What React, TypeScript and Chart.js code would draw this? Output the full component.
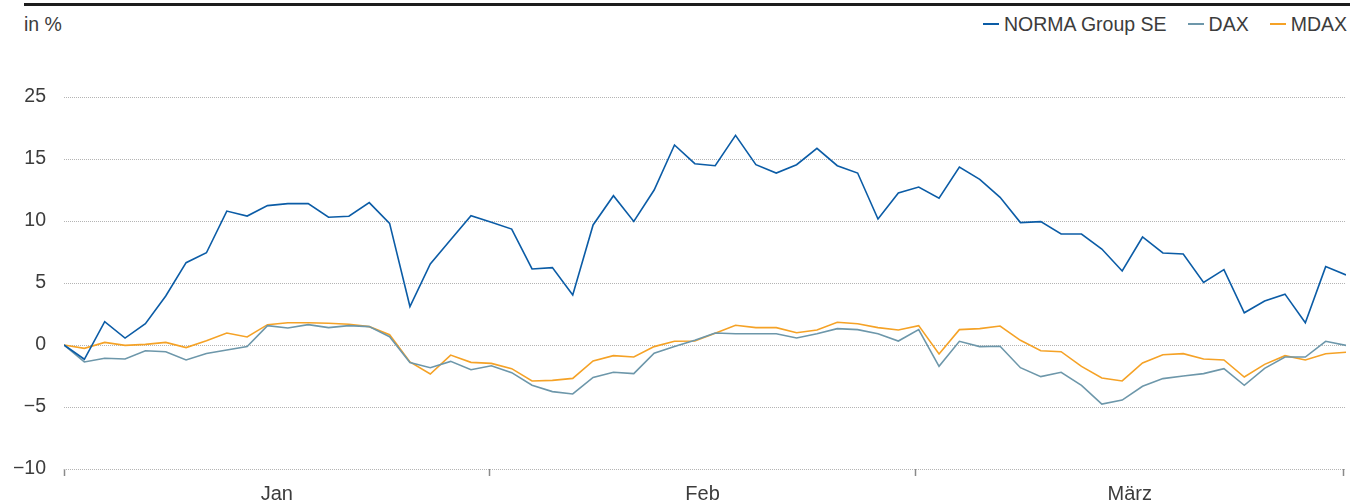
import React, { useEffect, useRef } from "react";
import { Chart, registerables } from "chart.js";

Chart.register(...registerables);

// ---- data ----
const seriesNames = ["NORMA Group SE", "DAX", "MDAX"];
const seriesColors = ["#0b5ca6", "#6d97aa", "#f5a226"];

const normaValues = [
  0, -1.15, 1.88, 0.56, 1.72, 3.95, 6.64, 7.44, 10.8, 10.4,
  11.24, 11.4, 11.4, 10.3, 10.38, 11.48, 9.81, 3.1, 6.53, 8.48,
  10.43, 9.89, 9.35, 6.13, 6.24, 4.03, 9.68, 12.04, 9.97, 12.5,
  16.13, 14.62, 14.46, 16.91, 14.54, 13.87, 14.54, 15.86, 14.46, 13.87,
  10.16, 12.26, 12.74, 11.83, 14.35, 13.36, 11.91, 9.87, 9.95, 8.95,
  8.95, 7.74, 5.97, 8.71, 7.42, 7.34, 5.05, 6.08, 2.6, 3.55,
  4.1, 1.8, 6.32, 5.65,
];
const daxValues = [
  0, -1.37, -1.07, -1.13, -0.46, -0.54, -1.21, -0.68, -0.4, -0.13,
  1.56, 1.37, 1.64, 1.4, 1.56, 1.48, 0.67, -1.42, -1.83, -1.32,
  -1.99, -1.67, -2.23, -3.25, -3.76, -3.95, -2.61, -2.2, -2.31, -0.67,
  -0.13, 0.38, 0.97, 0.91, 0.91, 0.91, 0.56, 0.91, 1.32, 1.24,
  0.91, 0.32, 1.24, -1.72, 0.3, -0.13, -0.1, -1.83, -2.55, -2.2,
  -3.25, -4.76, -4.44, -3.33, -2.71, -2.5, -2.31, -1.91, -3.25, -1.88,
  -0.97, -0.97, 0.3, -0.03,
];
const mdaxValues = [
  0, -0.27, 0.21, -0.03, 0.05, 0.21, -0.21, 0.35, 0.97, 0.65,
  1.64, 1.8, 1.8, 1.75, 1.67, 1.48, 0.83, -1.37, -2.34, -0.81,
  -1.4, -1.48, -1.91, -2.9, -2.85, -2.69, -1.29, -0.86, -0.97, -0.13,
  0.3, 0.32, 0.94, 1.59, 1.4, 1.4, 0.99, 1.21, 1.83, 1.72,
  1.4, 1.21, 1.56, -0.73, 1.24, 1.32, 1.53, 0.38, -0.46, -0.54,
  -1.72, -2.66, -2.9, -1.45, -0.78, -0.7, -1.13, -1.21, -2.58, -1.56,
  -0.86, -1.21, -0.7, -0.59,
];

const monthLabels = ["Jan", "Feb", "März"];
const monthBoundaries = [0, 20.92, 41.84, 62.9];

const yTickValues = [-10, -5, 0, 5, 10, 15, 20];
const yTickLabels = ["\u221210", "\u22125", "0", "5", "10", "15", "25"];

const FONT = "'Liberation Sans', Arial, Helvetica, sans-serif";
const TEXT_COLOR = "#3c3c3c";

export default function App() {
  const canvasRef = useRef<HTMLCanvasElement | null>(null);

  useEffect(() => {
    const canvas = canvasRef.current;
    if (!canvas) return;

    // x ticks: boundaries (tick marks) interleaved with month midpoints (labels)
    const xTicks: number[] = [];
    const xTickLabels: string[] = [];
    for (let m = 0; m < monthBoundaries.length; m++) {
      xTicks.push(monthBoundaries[m]);
      xTickLabels.push("");
      if (m < monthLabels.length) {
        xTicks.push((monthBoundaries[m] + monthBoundaries[m + 1]) / 2);
        xTickLabels.push(monthLabels[m]);
      }
    }

    const toPoints = (arr: number[]) => arr.map((y, i) => ({ x: i, y }));
    const allValues = [normaValues, daxValues, mdaxValues];

    const chart = new Chart(canvas, {
      type: "line",
      data: {
        datasets: allValues.map((vals, k) => ({
          label: seriesNames[k],
          data: toPoints(vals),
          borderColor: seriesColors[k],
          backgroundColor: seriesColors[k],
          borderWidth: 1.6,
          pointRadius: 0,
          tension: 0,
          fill: false,
        })),
      },
      options: {
        animation: false,
        responsive: true,
        maintainAspectRatio: false,
        layout: { padding: { top: 97, right: 3, left: 0, bottom: 0 } },
        plugins: {
          legend: { display: false },
          tooltip: { enabled: false },
        },
        scales: {
          x: {
            type: "linear",
            min: 0,
            max: normaValues.length - 1,
            afterBuildTicks: (scale: any) => {
              scale.ticks = xTicks.map((v) => ({ value: v }));
            },
            afterFit: (scale: any) => {
              scale.height = 33;
            },
            ticks: {
              autoSkip: false,
              maxRotation: 0,
              padding: 6,
              color: TEXT_COLOR,
              font: { family: FONT, size: 20 },
              callback: (_v: any, i: number) => xTickLabels[i],
            },
            grid: {
              drawOnChartArea: false,
              drawTicks: true,
              tickLength: 7,
              tickWidth: 1.5,
              tickColor: (ctx: any) => (ctx.index % 2 === 0 ? "#8a8a8a" : "rgba(0,0,0,0)"),
            },
            border: { display: false },
          },
          y: {
            min: yTickValues[0],
            max: yTickValues[yTickValues.length - 1],
            afterBuildTicks: (scale: any) => {
              scale.ticks = yTickValues.map((v) => ({ value: v }));
            },
            afterFit: (scale: any) => {
              scale.width = 64;
            },
            ticks: {
              padding: 18,
              color: TEXT_COLOR,
              font: { family: FONT, size: 19.5 },
              callback: (_v: any, i: number) => yTickLabels[i],
            },
            grid: {
              color: "#b4b4b4",
              lineWidth: 1,
              drawTicks: false,
            },
            border: { display: false, dash: [1, 1] },
          },
        },
      },
    });

    return () => chart.destroy();
  }, []);

  return (
    <div style={{ position: "absolute", left: 0, top: 0, width: 1350, height: 502, background: "#fff" }}>
      <div style={{ position: "absolute", left: 24, top: 3, width: 1326, height: 3, background: "#1d1d1d" }} />
      <div
        style={{
          position: "absolute",
          left: 24,
          top: 14,
          lineHeight: "20px",
          fontFamily: FONT,
          fontSize: 19.5,
          color: TEXT_COLOR,
        }}
      >
        in %
      </div>
      <div
        style={{
          position: "absolute",
          right: 3,
          top: 14,
          display: "flex",
          alignItems: "center",
          lineHeight: "20px",
          fontFamily: FONT,
          fontSize: 19.5,
          color: TEXT_COLOR,
          whiteSpace: "nowrap",
        }}
      >
        {seriesNames.map((name, k) => (
          <div
            key={name}
            style={{ display: "flex", alignItems: "center", marginLeft: k === 0 ? 0 : 21 }}
          >
            <span
              style={{
                display: "inline-block",
                width: 16,
                height: 2,
                background: seriesColors[k],
                marginRight: 5,
              }}
            />
            <span>{name}</span>
          </div>
        ))}
      </div>
      <canvas ref={canvasRef} style={{ position: "absolute", left: 0, top: 0, width: 1350, height: 502 }} />
    </div>
  );
}
